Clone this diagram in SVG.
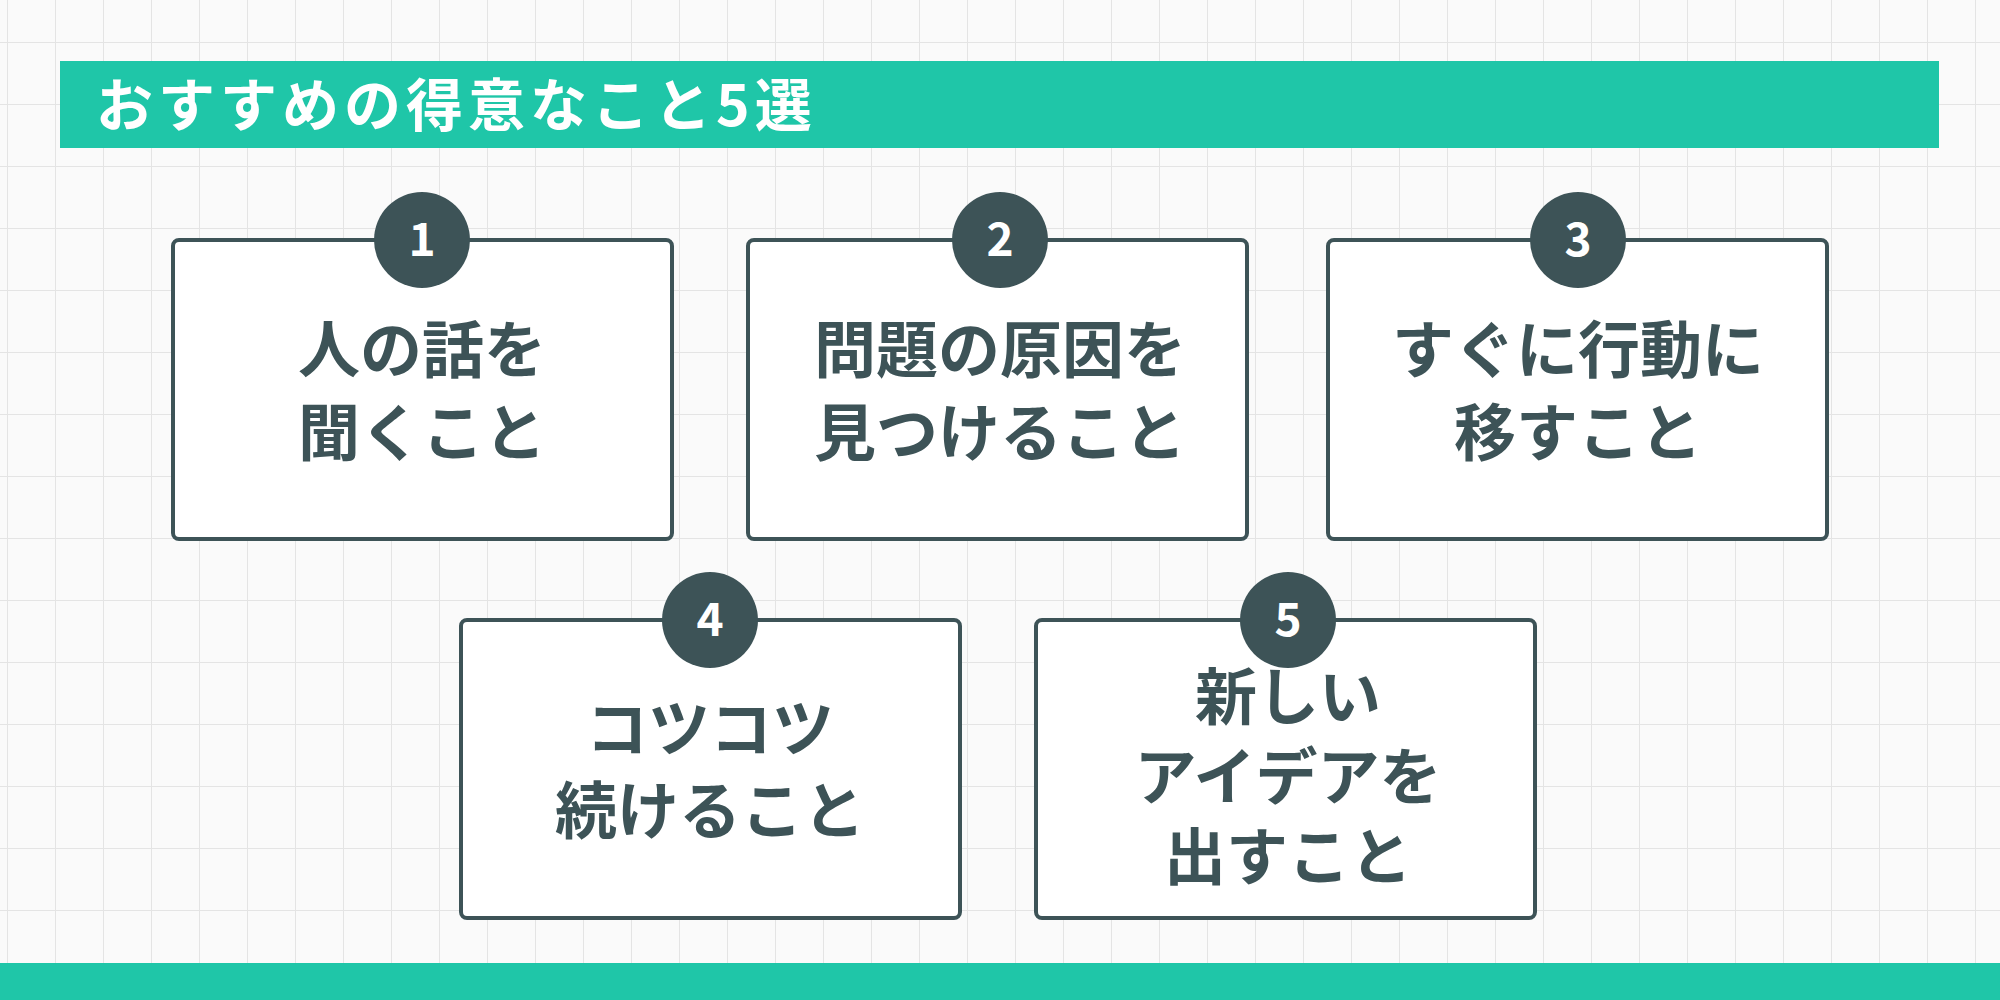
<svg xmlns="http://www.w3.org/2000/svg" width="2000" height="1000" viewBox="0 0 2000 1000">
<style>
.box{fill:#fff;stroke:#3d5357;stroke-width:4}
.num{fill:#3d5357}
.nt{fill:#fff;font:700 46px "Noto Sans CJK JP","Noto Sans",sans-serif;text-anchor:middle}
.t{fill:#3d5357;font:700 62px "Noto Sans CJK JP",sans-serif;text-anchor:middle}
</style>
<defs>
<pattern id="g" width="48" height="62" patternUnits="userSpaceOnUse" x="7" y="42">
<path d="M0 0H48M0 0V62" fill="none" stroke="#e4e4e4" stroke-width="2"/>
</pattern>
</defs>
<rect width="2000" height="1000" fill="#fafafa"/>
<rect width="2000" height="1000" fill="url(#g)"/>
<g id="title">
<rect x="60" y="61" width="1879" height="87" fill="#1fc6a8"/>
<text x="96" y="126" style="fill:#fff;font:700 57px 'Noto Sans CJK JP',sans-serif;letter-spacing:5px">おすすめの得意なこと5選</text>
</g>
<rect x="0" y="963" width="2000" height="37" fill="#1fc6a8"/>
<g id="n1"><rect class="box" x="173" y="240" width="499" height="299" rx="6"/><circle class="num" cx="422" cy="240" r="48"/><text class="nt" x="422" y="256">1</text>
<text class="t" x="422" y="373">人の話を</text><text class="t" x="422" y="456">聞くこと</text></g>
<g id="n2"><rect class="box" x="748" y="240" width="499" height="299" rx="6"/><circle class="num" cx="1000" cy="240" r="48"/><text class="nt" x="1000" y="256">2</text>
<text class="t" x="1000" y="373">問題の原因を</text><text class="t" x="1000" y="456">見つけること</text></g>
<g id="n3"><rect class="box" x="1328" y="240" width="499" height="299" rx="6"/><circle class="num" cx="1578" cy="240" r="48"/><text class="nt" x="1578" y="256">3</text>
<text class="t" x="1578" y="373">すぐに行動に</text><text class="t" x="1578" y="456">移すこと</text></g>
<g id="n4"><rect class="box" x="461" y="620" width="499" height="298" rx="6"/><circle class="num" cx="710" cy="620" r="48"/><text class="nt" x="710" y="636">4</text>
<text class="t" x="710" y="752">コツコツ</text><text class="t" x="710" y="834">続けること</text></g>
<g id="n5"><rect class="box" x="1036" y="620" width="499" height="298" rx="6"/><circle class="num" cx="1288" cy="620" r="48"/><text class="nt" x="1288" y="636">5</text>
<text class="t" x="1288" y="720">新しい</text><text class="t" x="1288" y="800">アイデアを</text><text class="t" x="1288" y="880">出すこと</text></g>
<g id="connectors"/>
</svg>
